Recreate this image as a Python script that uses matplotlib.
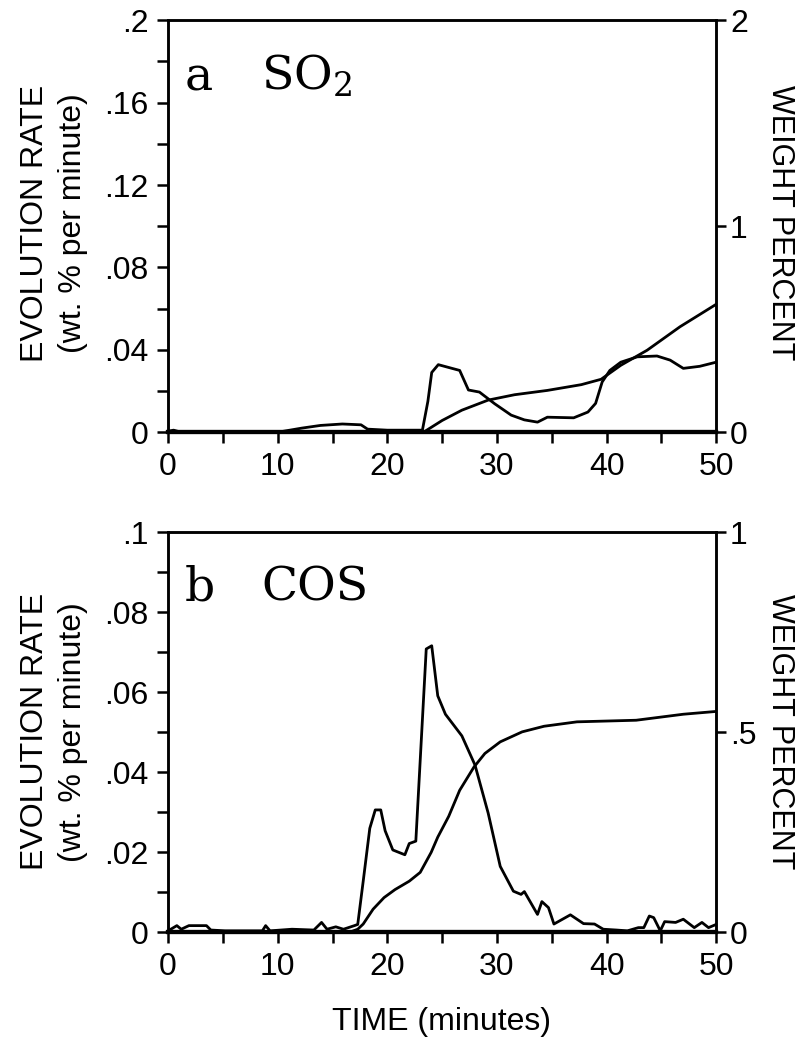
import numpy as np
import matplotlib
matplotlib.use("Agg")
import matplotlib.pyplot as plt
import matplotlib.ticker as mticker

plt.rcParams['font.family'] = ['Liberation Sans', 'DejaVu Sans']
plt.rcParams['mathtext.fontset'] = 'dejavuserif'

# panel a, SO2
ta_rate = [0, 0.5, 1.2, 5, 10, 12.2, 13.9, 15.9, 17.6, 18.2, 20, 23.2, 23.7, 24.05,
           24.65, 25.9, 26.6, 27.4, 28.4, 29.8, 31.3, 32.5, 33.7, 34.6, 37.0, 38.3,
           39.0, 39.6, 40.3, 41.3, 42.8, 44.6, 45.8, 47.0, 48.5, 50]
ra = [0.0005, 0.001, 0, 0, 0, 0.002, 0.0033, 0.004, 0.0036, 0.0015, 0.001, 0.001,
      0.015, 0.029, 0.0328, 0.031, 0.030, 0.0205, 0.0195, 0.0138, 0.0083, 0.006,
      0.0049, 0.0073, 0.007, 0.0098, 0.014, 0.0244, 0.030, 0.034, 0.0366, 0.037,
      0.035, 0.031, 0.032, 0.034]
ta_wt = [0, 23.3, 25.0, 26.8, 29.2, 31.6, 34.6, 37.7, 39.5, 41.3, 43.7, 46.7, 50]
wa = [0, 0, 0.057, 0.107, 0.156, 0.182, 0.203, 0.231, 0.257, 0.325, 0.398, 0.512, 0.621]

# panel b, COS
tb = [0, 0.8, 1.2, 1.9, 3.5, 3.9, 5.2, 8.6, 8.9, 9.3, 11.3, 13.3, 14.0, 14.5, 15.3,
      16.0, 17.0, 17.3, 17.8, 18.4, 18.9, 19.4, 19.8, 20.5, 21.6, 22.0, 22.6, 23.55,
      24.05, 24.6, 25.3, 26.8, 28.0, 29.2, 30.3, 31.5, 32.2, 32.5, 33.7, 34.1, 34.7,
      35.2, 36.7, 37.9, 38.9, 39.7, 40.9, 41.9, 42.9, 43.4, 43.9, 44.3, 44.9, 45.3,
      46.3, 47.0, 48.0, 48.7, 49.3, 50]
rb = [0.0004, 0.0017, 0.0008, 0.0017, 0.0017, 0.0006, 0.0004, 0.0004, 0.0017, 0.0004,
      0.0008, 0.0006, 0.0025, 0.0008, 0.0014, 0.0008, 0.0017, 0.002, 0.0128, 0.026,
      0.0306, 0.0306, 0.0254, 0.0206, 0.0194, 0.0222, 0.0228, 0.0708, 0.0716, 0.0591,
      0.0545, 0.0491, 0.0418, 0.0298, 0.0165, 0.0103, 0.0095, 0.0102, 0.0045, 0.0077,
      0.0062, 0.0021, 0.0044, 0.0022, 0.0021, 0.0008, 0.0006, 0.0004, 0.0012, 0.0012,
      0.0041, 0.0037, 0.0004, 0.0027, 0.0025, 0.0033, 0.0012, 0.0025, 0.0012, 0.002]
tb_wt = [0, 16.5, 17.3, 17.8, 18.7, 19.7, 20.7, 22.0, 23.0, 24.0, 24.6, 25.6, 26.6,
         27.9, 28.9, 30.3, 32.3, 34.3, 37.3, 42.7, 47.0, 50]
wb = [0, 0, 0.008, 0.021, 0.058, 0.087, 0.107, 0.128, 0.15, 0.2, 0.238, 0.29, 0.355,
      0.413, 0.447, 0.476, 0.501, 0.515, 0.526, 0.53, 0.545, 0.552]


def nozero(v, pos):
    s = ('%.2f' % v).rstrip('0').rstrip('.')
    if s.startswith('0.'):
        s = s[1:]
    return s


FS = 23
fig = plt.figure(figsize=(8.12, 10.62), dpi=100)

panels = [
    dict(rect=[0.207, 0.593, 0.675, 0.388], t=ta_rate, r=ra, tw=ta_wt, w=wa,
         rmax=0.2, rmaj=0.04, rmin=0.02, wmax=2, wmaj=1, letter='a', name=r'SO$_2$',
         ly=0.790),
    dict(rect=[0.207, 0.122, 0.675, 0.377], t=tb, r=rb, tw=tb_wt, w=wb,
         rmax=0.1, rmaj=0.02, rmin=0.01, wmax=1, wmaj=0.5, letter='b', name='COS',
         ly=0.311),
]

for p in panels:
    ax = fig.add_axes(p['rect'])
    ax2 = ax.twinx()
    ax.plot(p['t'], p['r'], color='black', lw=2.0)
    ax2.plot(p['tw'], p['w'], color='black', lw=2.0)

    ax.set_xlim(0, 50)
    ax.set_ylim(0, p['rmax'])
    ax2.set_ylim(0, p['wmax'])

    ax.xaxis.set_major_locator(mticker.MultipleLocator(10))
    ax.xaxis.set_minor_locator(mticker.MultipleLocator(5))
    ax.yaxis.set_major_locator(mticker.MultipleLocator(p['rmaj']))
    ax.yaxis.set_minor_locator(mticker.MultipleLocator(p['rmin']))
    ax.yaxis.set_major_formatter(mticker.FuncFormatter(nozero))
    ax2.yaxis.set_major_locator(mticker.MultipleLocator(p['wmaj']))
    ax2.yaxis.set_major_formatter(mticker.FuncFormatter(nozero))

    ax.tick_params(which='both', direction='out', length=8, width=1.8,
                   labelsize=FS, pad=6)
    ax2.tick_params(which='both', direction='out', length=7, width=1.8,
                    labelsize=FS, pad=3)
    for a in (ax, ax2):
        for sp in a.spines.values():
            sp.set_linewidth(1.8)
        a.spines['bottom'].set_linewidth(3)

    ax.text(0.03, 0.83, p['letter'], transform=ax.transAxes, fontsize=34,
            family='DejaVu Serif', va='baseline')
    ax.text(0.17, 0.83, p['name'], transform=ax.transAxes, fontsize=34,
            family='DejaVu Serif', va='baseline')

    fig.text(0.066, p['ly'], 'EVOLUTION RATE\n(wt. % per minute)', rotation=90,
             ha='center', va='center', multialignment='center', fontsize=FS,
             linespacing=1.35)
    fig.text(0.960, p['ly'], 'WEIGHT PERCENT', rotation=-90, ha='center',
             va='center', fontsize=22)

fig.text(0.544, 1 - 1022 / 1062, 'TIME (minutes)', ha='center', va='center',
         fontsize=FS)

fig.savefig('out.png', dpi=100)
